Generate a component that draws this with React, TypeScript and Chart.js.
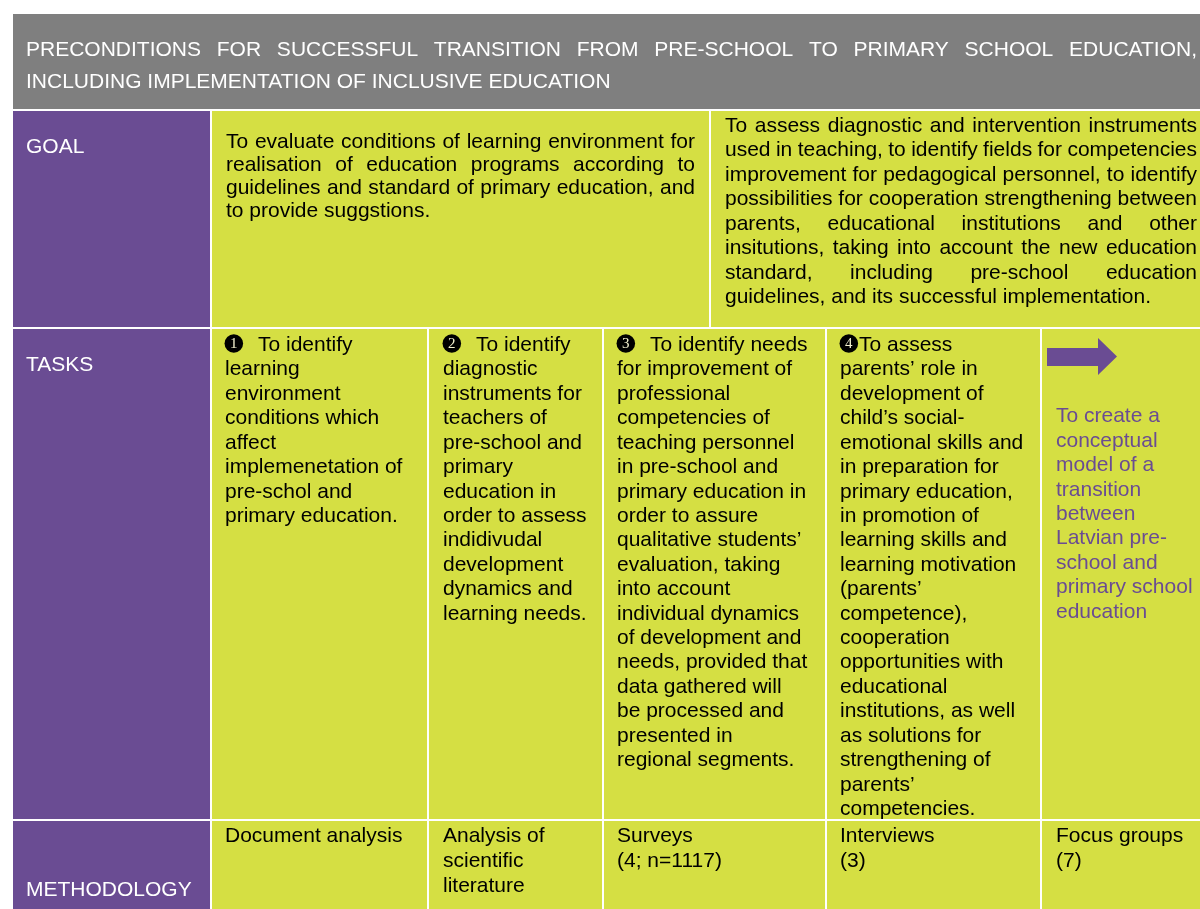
import React, { useEffect, useRef } from "react";
import { Chart, registerables } from "chart.js";

Chart.register(...registerables);

// ---------- DATA ----------
const headerLines: string[] = [
  "PRECONDITIONS FOR SUCCESSFUL TRANSITION FROM PRE-SCHOOL TO PRIMARY SCHOOL EDUCATION,",
  "INCLUDING IMPLEMENTATION OF INCLUSIVE EDUCATION",
];

const rowLabels: string[] = ["GOAL", "TASKS", "METHODOLOGY"];

const goalLeft: string[] = [
  "To evaluate conditions of learning environment for",
  "realisation of education programs according to",
  "guidelines and standard of primary education, and",
  "to provide suggstions.",
];

const goalRight: string[] = [
  "To assess diagnostic and intervention instruments",
  "used in teaching, to identify fields for competencies",
  "improvement for pedagogical personnel, to identify",
  "possibilities for cooperation strengthening between",
  "parents, educational institutions and other",
  "insitutions, taking into account the new education",
  "standard, including pre-school education",
  "guidelines, and its successful implementation.",
];

const task1: string[] = [
  "❶ To identify",
  "learning",
  "environment",
  "conditions which",
  "affect",
  "implemenetation of",
  "pre-schol and",
  "primary education.",
];

const task2: string[] = [
  "❷ To identify",
  "diagnostic",
  "instruments for",
  "teachers of",
  "pre-school and",
  "primary",
  "education in",
  "order to assess",
  "indidivudal",
  "development",
  "dynamics and",
  "learning needs.",
];

const task3: string[] = [
  "❸ To identify needs",
  "for improvement of",
  "professional",
  "competencies of",
  "teaching personnel",
  "in pre-school and",
  "primary education in",
  "order to assure",
  "qualitative students’",
  "evaluation, taking",
  "into account",
  "individual dynamics",
  "of development and",
  "needs, provided that",
  "data gathered will",
  "be processed and",
  "presented in",
  "regional segments.",
];

const task4: string[] = [
  "❹To assess",
  "parents’ role in",
  "development of",
  "child’s social-",
  "emotional skills and",
  "in preparation for",
  "primary education,",
  "in promotion of",
  "learning skills and",
  "learning motivation",
  "(parents’",
  "competence),",
  "cooperation",
  "opportunities with",
  "educational",
  "institutions, as well",
  "as solutions for",
  "strengthening of",
  "parents’",
  "competencies.",
];

const outcomeLines: string[] = [
  "To create a",
  "conceptual",
  "model of a",
  "transition",
  "between",
  "Latvian pre-",
  "school and",
  "primary school",
  "education",
];

const methods: string[][] = [
  ["Document analysis"],
  ["Analysis of", "scientific", "literature"],
  ["Surveys", "(4; n=1117)"],
  ["Interviews", "(3)"],
  ["Focus groups", "(7)"],
];

// ---------- LAYOUT / STYLE (in scale units) ----------
const W = 1200;
const H = 909;
const GRAY = "#7f7f7f";
const PURPLE = "#6a4c93";
const YELLOW = "#d5df43";
const FONT = "21px 'Liberation Sans', Arial, 'DejaVu Sans', sans-serif";
const MARK_FONT = "15px 'Liberation Serif', 'Times New Roman', serif";

const header = { x0: 13, x1: 1200, y0: 14, y1: 109, tx: 26, tr: 1197, base: 56, lh: 32 };
const rowTops = [111, 329, 821];
const rowBottoms = [327, 819, 909];
const labelCol = { x0: 13, x1: 210, tx: 26 };
const labelBase = [153, 371, 896];
const goalCells = [
  { x0: 212, x1: 709, tx: 226, tr: 695, base: 147.5, lh: 23 },
  { x0: 711, x1: 1200, tx: 725, tr: 1197, base: 131.5, lh: 24.55 },
];
const taskCols = [
  { x0: 212, x1: 427, tx: 225 },
  { x0: 429, x1: 602, tx: 443 },
  { x0: 604, x1: 825, tx: 617 },
  { x0: 827, x1: 1040, tx: 840 },
  { x0: 1042, x1: 1200, tx: 1056 },
];
const taskBase = 351;
const taskLh = 24.42;
const outcomeBase = 422.3;
const outcomeLh = 24.4;
const methodBase = 841.7;
const methodLh = 25;
const marker = { r: 9.3, dy: 7.5, restSpace: 33, restTight: 19 };
const arrow = { sx0: 1047, sx1: 1098, sy0: 348, sy1: 366, hy0: 338, hy1: 375, tip: 1117 };

const tablePlugin = {
  id: "tableDraw",
  afterDraw(chart: any) {
    const ctx: CanvasRenderingContext2D = chart.ctx;
    const xs = chart.scales.x;
    const ys = chart.scales.y;
    const px = (v: number) => xs.getPixelForValue(v);
    const py = (v: number) => ys.getPixelForValue(v);

    const rect = (x0: number, y0: number, x1: number, y1: number, color: string) => {
      ctx.fillStyle = color;
      ctx.fillRect(px(x0), py(y0), px(x1) - px(x0), py(y1) - py(y0));
    };
    const text = (s: string, x: number, y: number, color: string) => {
      const code = s.codePointAt(0) || 0;
      if (code >= 0x2776 && code <= 0x277f) {
        // negative circled digit: black disc with the digit
        const digit = String(code - 0x2775);
        const cx = px(x + marker.r - 0.5);
        const cy = py(y - marker.dy);
        ctx.fillStyle = "#000000";
        ctx.beginPath();
        ctx.arc(cx, cy, marker.r, 0, Math.PI * 2);
        ctx.fill();
        ctx.save();
        ctx.font = MARK_FONT;
        ctx.fillStyle = "#f4f2d0";
        ctx.textAlign = "center";
        ctx.textBaseline = "middle";
        ctx.fillText(digit, cx, cy + 0.5);
        ctx.restore();
        const rest = s.slice(1);
        const spaced = rest.startsWith(" ");
        ctx.fillStyle = color;
        ctx.fillText(rest.trim(), px(x + (spaced ? marker.restSpace : marker.restTight)), py(y));
        return;
      }
      ctx.fillStyle = color;
      ctx.fillText(s, px(x), py(y));
    };
    const justified = (s: string, x: number, r: number, y: number, color: string) => {
      const words = s.split(" ");
      const widths = words.map((w) => ctx.measureText(w).width);
      const total = widths.reduce((a, b) => a + b, 0);
      const gap = (px(r) - px(x) - total) / Math.max(1, words.length - 1);
      let cx = px(x);
      ctx.fillStyle = color;
      words.forEach((w, i) => {
        ctx.fillText(w, cx, py(y));
        cx += widths[i] + gap;
      });
    };

    ctx.save();
    ctx.fillStyle = "#ffffff";
    ctx.fillRect(0, 0, chart.width, chart.height);
    ctx.font = FONT;
    ctx.textBaseline = "alphabetic";
    ctx.textAlign = "left";

    // header
    rect(header.x0, header.y0, header.x1, header.y1, GRAY);
    headerLines.forEach((l, i) => {
      const y = header.base + i * header.lh;
      if (i < headerLines.length - 1) justified(l, header.tx, header.tr, y, "#ffffff");
      else text(l, header.tx, y, "#ffffff");
    });

    // label column
    rowLabels.forEach((lab, i) => {
      rect(labelCol.x0, rowTops[i], labelCol.x1, rowBottoms[i], PURPLE);
      text(lab, labelCol.tx, labelBase[i], "#ffffff");
    });

    // goal row
    const goals = [goalLeft, goalRight];
    goalCells.forEach((c, ci) => {
      rect(c.x0, rowTops[0], c.x1, rowBottoms[0], YELLOW);
      const lines = goals[ci];
      lines.forEach((l, i) => {
        const y = c.base + i * c.lh;
        if (i < lines.length - 1) justified(l, c.tx, c.tr, y, "#000000");
        else text(l, c.tx, y, "#000000");
      });
    });

    // tasks + methodology rows
    const tasks = [task1, task2, task3, task4];
    taskCols.forEach((c, ci) => {
      rect(c.x0, rowTops[1], c.x1, rowBottoms[1], YELLOW);
      rect(c.x0, rowTops[2], c.x1, rowBottoms[2], YELLOW);
      if (ci < tasks.length) {
        tasks[ci].forEach((l, i) => text(l, c.tx, taskBase + i * taskLh, "#000000"));
      } else {
        outcomeLines.forEach((l, i) => text(l, c.tx, outcomeBase + i * outcomeLh, PURPLE));
      }
      methods[ci].forEach((l, i) => text(l, c.tx, methodBase + i * methodLh, "#000000"));
    });

    // arrow
    ctx.fillStyle = PURPLE;
    ctx.beginPath();
    ctx.moveTo(px(arrow.sx0), py(arrow.sy0));
    ctx.lineTo(px(arrow.sx1), py(arrow.sy0));
    ctx.lineTo(px(arrow.sx1), py(arrow.hy0));
    ctx.lineTo(px(arrow.tip), py((arrow.hy0 + arrow.hy1) / 2));
    ctx.lineTo(px(arrow.sx1), py(arrow.hy1));
    ctx.lineTo(px(arrow.sx1), py(arrow.sy1));
    ctx.lineTo(px(arrow.sx0), py(arrow.sy1));
    ctx.closePath();
    ctx.fill();

    ctx.restore();
  },
};

export default function App() {
  const ref = useRef<HTMLCanvasElement>(null);
  useEffect(() => {
    document.body.style.margin = "0";
    const chart = new Chart(ref.current as HTMLCanvasElement, {
      type: "scatter",
      data: { datasets: [] },
      options: {
        responsive: false,
        maintainAspectRatio: false,
        animation: false,
        devicePixelRatio: 1,
        layout: { padding: 0 },
        plugins: { legend: { display: false }, tooltip: { enabled: false } },
        scales: {
          x: { type: "linear", min: 0, max: W, display: false },
          y: { type: "linear", min: 0, max: H, reverse: true, display: false },
        },
      },
      plugins: [tablePlugin],
    } as any);
    return () => chart.destroy();
  }, []);
  return (
    <div style={{ position: "absolute", left: 0, top: 0, width: W, height: H }}>
      <canvas ref={ref} width={W} height={H} style={{ display: "block", width: W, height: H }} />
    </div>
  );
}
